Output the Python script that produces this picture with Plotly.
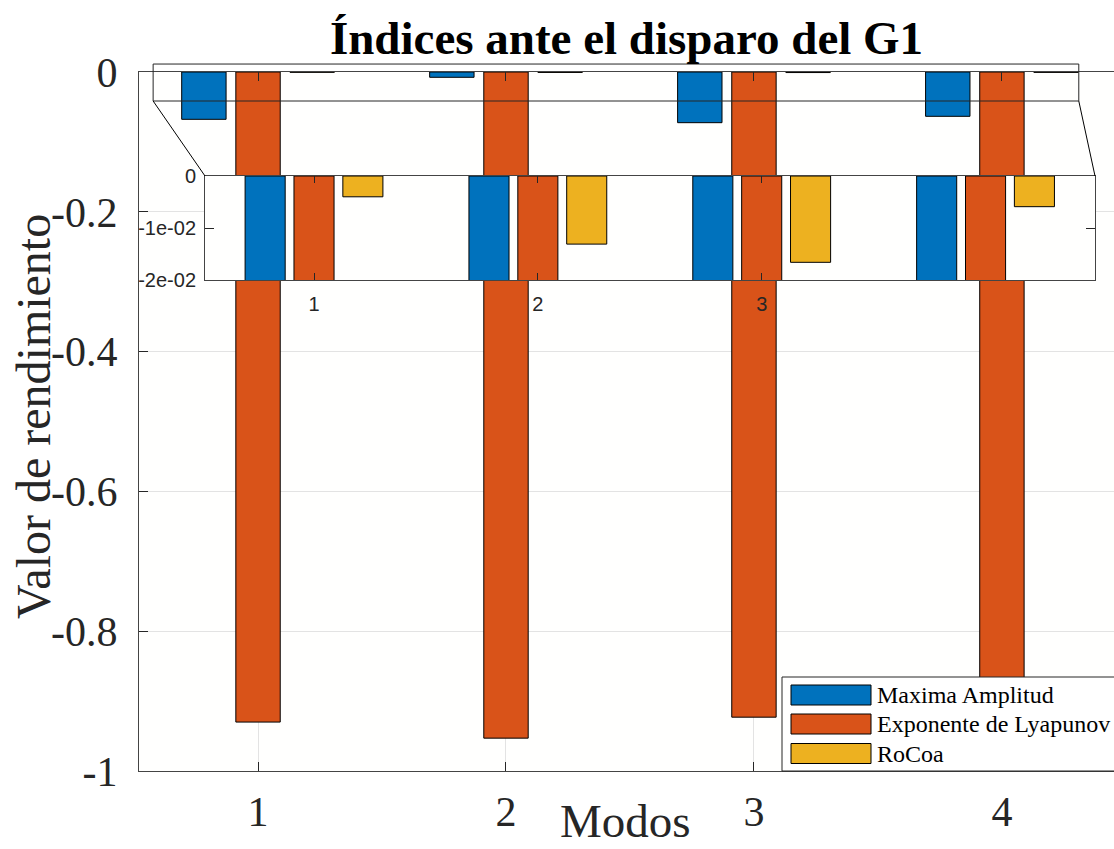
import plotly.graph_objects as go

# ---------------- data ----------------
modos = [1, 2, 3, 4]
series_names = ["Maxima Amplitud", "Exponente de Lyapunov", "RoCoa"]
series_colors = ["#0072BD", "#D95319", "#EDB120"]

amplitud = [-0.0677, -0.0076, -0.0725, -0.0634]
lyapunov = [-0.930, -0.953, -0.923, -0.945]
rocoa = [-0.0004, -0.0006, -0.0008, -0.0005]

# values shown in the magnified detail (blue/orange run past the detail limits)
amplitud_detalle = [-0.0677, -0.0250, -0.0725, -0.0634]
lyapunov_detalle = [-0.930, -0.953, -0.923, -0.945]
rocoa_detalle = [-0.0040, -0.0131, -0.0166, -0.0059]

y_ticks = [0, -0.2, -0.4, -0.6, -0.8, -1]
y_ticktext = ["0", "-0.2", "-0.4", "-0.6", "-0.8", "-1"]
det_y_ticks = [0, -0.01, -0.02]
det_y_ticktext = ["0", "-1e-02", "-2e-02"]
det_x_ticks = [1, 2, 3]

# region magnified (main-axes data units)
zoom_x = [0.577, 4.31]
zoom_y = [-0.0415, 0.0114]

# ---------------- layout geometry ----------------
W, H = 1114, 849
ML, MR, MT, MB = 139, 0, 72, 78
PW, PH = W - ML - MR, H - MT - MB
x_range = [0.52, 4.452]
y_range = [-1, 0]
det_x_range = [0.513, 4.489]
det_y_range = [-0.02, 0]
det_dom_x = [(205 - ML) / PW, (1095 - ML) / PW]
det_dom_y = [(H - MB - 280) / PH, (H - MB - 176) / PH]


def px_x(v):
    return (v - x_range[0]) / (x_range[1] - x_range[0])


def py_y(v):
    return (v - y_range[0]) / (y_range[1] - y_range[0])


def pix_x(p):
    return (p - ML) / PW


def pix_y(p):
    return (H - MB - p) / PH


SERIF = "Liberation Serif, Times New Roman, serif"
SANS = "Liberation Sans, Arial, sans-serif"
AX = "#262626"

fig = go.Figure()

main_vals = [amplitud, lyapunov, rocoa]
det_vals = [amplitud_detalle, lyapunov_detalle, rocoa_detalle]
for name, col, vals in zip(series_names, series_colors, main_vals):
    fig.add_trace(go.Bar(x=modos, y=vals, name=name, marker=dict(color=col, line=dict(color="black", width=1)),
                         showlegend=False, xaxis="x", yaxis="y"))
for name, col, vals in zip(series_names, series_colors, det_vals):
    fig.add_trace(go.Bar(x=modos, y=vals, name=name, marker=dict(color=col, line=dict(color="black", width=1)),
                         showlegend=False, xaxis="x2", yaxis="y2"))

shapes = []
annotations = []

# magnify box and connectors
bx0, bx1 = px_x(zoom_x[0]), px_x(zoom_x[1])
by0, by1 = py_y(zoom_y[0]), py_y(zoom_y[1])
shapes.append(dict(type="rect", xref="paper", yref="paper", x0=bx0, x1=bx1, y0=by0, y1=by1,
                   line=dict(color=AX, width=1), fillcolor="rgba(0,0,0,0)", layer="above"))
shapes.append(dict(type="line", xref="paper", yref="paper", x0=bx0, y0=by0, x1=det_dom_x[0], y1=det_dom_y[1],
                   line=dict(color="black", width=1), layer="above"))
shapes.append(dict(type="line", xref="paper", yref="paper", x0=bx1, y0=by0, x1=det_dom_x[1], y1=det_dom_y[1],
                   line=dict(color="black", width=1), layer="above"))

# custom legend
shapes.append(dict(type="rect", xref="paper", yref="paper", x0=pix_x(782), x1=1.01, y0=pix_y(771), y1=pix_y(677),
                   line=dict(color=AX, width=1), fillcolor="white", layer="above"))
row_centers = [695, 724, 753.5]
for name, col, rc in zip(series_names, series_colors, row_centers):
    shapes.append(dict(type="rect", xref="paper", yref="paper", x0=pix_x(791), x1=pix_x(871),
                       y0=pix_y(rc + 10), y1=pix_y(rc - 10),
                       line=dict(color="black", width=1), fillcolor=col, layer="above"))
    annotations.append(dict(xref="paper", yref="paper", x=pix_x(875), y=pix_y(rc), text=name, showarrow=False,
                            xanchor="left", yanchor="middle", font=dict(family=SERIF, size=24, color="black")))

# axis titles
annotations.append(dict(xref="paper", yref="paper", x=pix_x(33), y=pix_y(417), text="Valor de rendimiento",
                        textangle=-90, showarrow=False, xanchor="center", yanchor="middle",
                        font=dict(family=SERIF, size=48, color=AX)))
annotations.append(dict(xref="paper", yref="paper", x=pix_x(625), y=pix_y(849), text="Modos",
                        showarrow=False, xanchor="center", yanchor="bottom",
                        font=dict(family=SERIF, size=47, color=AX)))

fig.update_layout(
    width=W, height=H,
    margin=dict(l=ML, r=MR, t=MT, b=MB, pad=0),
    paper_bgcolor="white", plot_bgcolor="#fffffe",
    barmode="group", bargap=0.345, bargroupgap=0.18,
    title=dict(text="<b>Índices ante el disparo del G1</b>", x=0.5, xref="paper", xanchor="center",
               y=1 - 38 / H, yref="container", yanchor="middle",
               font=dict(family=SERIF, size=47, color="black")),
    xaxis=dict(domain=[0, 1], range=x_range, tickvals=modos, ticktext=[str(m) for m in modos],
               ticks="inside", ticklen=9, tickcolor=AX, showline=True, linecolor="#444", linewidth=1,
               mirror="ticks", showgrid=True, gridcolor="#e3e3e3", zeroline=False,
               tickfont=dict(family=SERIF, size=42, color=AX), ticklabelstandoff=4),
    yaxis=dict(domain=[0, 1], range=y_range, tickvals=y_ticks, ticktext=y_ticktext,
               ticks="inside", ticklen=9, tickcolor=AX, showline=True, linecolor="#444", linewidth=1,
               showgrid=True, gridcolor="#e3e3e3", zeroline=False,
               tickfont=dict(family=SERIF, size=42, color=AX), ticklabelstandoff=12),
    xaxis2=dict(domain=det_dom_x, anchor="y2", range=det_x_range, tickvals=det_x_ticks,
                ticktext=[str(v) for v in det_x_ticks], ticks="inside", ticklen=7, tickcolor=AX,
                showline=True, linecolor="#444", linewidth=1, mirror="ticks", showgrid=False, zeroline=False,
                tickfont=dict(family=SANS, size=20, color=AX), ticklabelstandoff=6),
    yaxis2=dict(domain=det_dom_y, anchor="x2", range=det_y_range, tickvals=det_y_ticks,
                ticktext=det_y_ticktext, ticks="inside", ticklen=9, tickcolor=AX,
                showline=True, linecolor="#444", linewidth=1, mirror="ticks", showgrid=False, zeroline=False,
                tickfont=dict(family=SANS, size=20, color=AX), ticklabelstandoff=4),
    shapes=shapes,
    annotations=annotations,
    showlegend=False,
)

fig.write_html("out.html")
